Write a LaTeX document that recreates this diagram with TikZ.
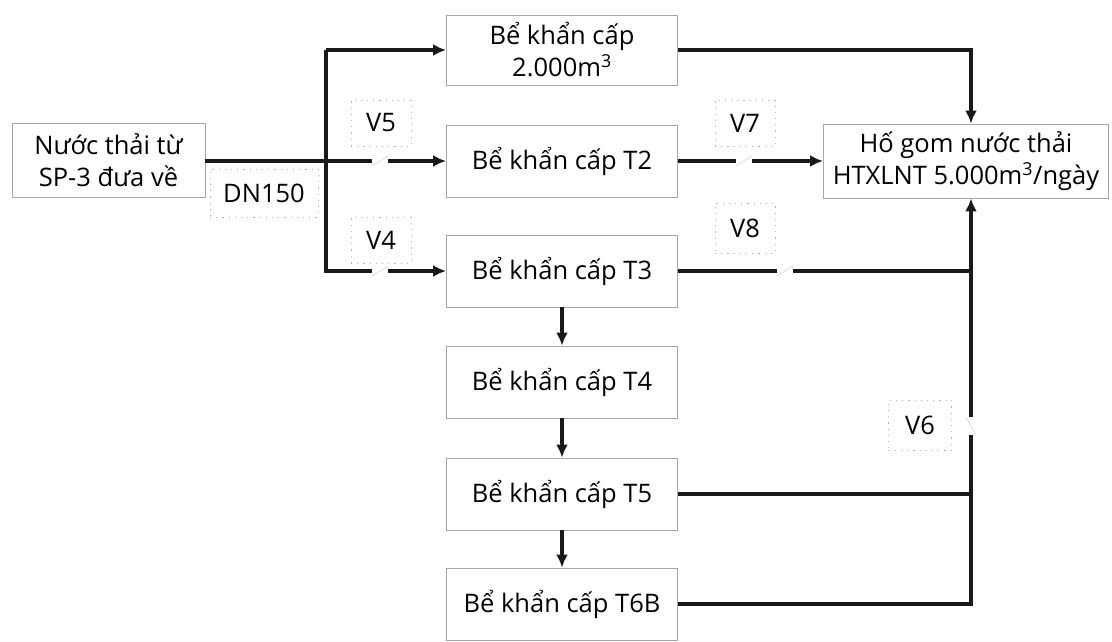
\documentclass[tikz,border=0pt]{standalone}
\usepackage{fontspec}
\setmainfont{Open Sans}
\usetikzlibrary{arrows.meta,calc}
\begin{document}
\begin{tikzpicture}[x=1pt,y=-1pt,
  tank/.style={draw=black!35,line width=0.9pt,fill=white,minimum width=231pt,minimum height=72pt,inner sep=0pt,align=center,font=\fontsize{25.5}{32}\selectfont},
  tag/.style={draw=black!30,line width=1pt,dash pattern=on 1.2pt off 5pt,inner sep=0pt,font=\fontsize{25.5}{32}\selectfont},
  pipe/.style={line width=3.5pt,black!90},
  flow/.style={pipe,-{Latex[length=13pt,width=12pt]}},
  valvemark/.style={line width=1pt,black!12}]
\useasboundingbox (0,0) rectangle (1112,641);
% boxes
\node[tank,minimum width=193pt,minimum height=74pt] (src) at (108.5,160) {Nước thải từ\\SP-3 đưa về};
\node[tank,minimum height=70pt] (top) at (562,50) {Bể khẩn cấp\\2.000m\textsuperscript{3}};
\node[tank] (t2) at (562,161) {Bể khẩn cấp T2};
\node[tank] (t3) at (562,271) {Bể khẩn cấp T3};
\node[tank] (t4) at (562,382) {Bể khẩn cấp T4};
\node[tank] (t5) at (562,494) {Bể khẩn cấp T5};
\node[tank] (t6) at (562,604) {Bể khẩn cấp T6B};
\node[tank,minimum width=285pt,minimum height=74pt] (hg) at (966,161) {Hố gom nước thải\\HTXLNT 5.000m\textsuperscript{3}/ngày};
% tags
\node[tag,minimum width=108pt,minimum height=48pt] (dn) at (264,193) {DN150};
\node[tag,minimum width=60pt,minimum height=46pt] (v5) at (381,123) {V5};
\node[tag,minimum width=60pt,minimum height=46pt] (v4) at (381,240) {V4};
\node[tag,minimum width=60pt,minimum height=46pt] (v7) at (745,123) {V7};
\node[tag,minimum width=60pt,minimum height=50pt] (v8) at (745,228) {V8};
\node[tag,minimum width=63pt,minimum height=50pt] (v6) at (920,425) {V6};
% coordinates
\coordinate (bt) at (326,50);
\coordinate (bb) at (326,271);
\coordinate (v5a) at (372,161);
\coordinate (v5b) at (388,161);
\coordinate (v4a) at (372,271);
\coordinate (v4b) at (388,271);
\coordinate (v7a) at (736,161);
\coordinate (v7b) at (752,161);
\coordinate (v8a) at (777,271);
\coordinate (v8b) at (793,271);
\coordinate (c1) at (971,50);
\coordinate (j3) at (971,271);
\coordinate (j5) at (971,494);
\coordinate (j6) at (971,604);
\coordinate (v6a) at (971,435);
\coordinate (v6b) at (971,417);
% pipes
\draw[pipe] (src.east |- v5a) -- (v5a);
\draw[flow] (v5b) -- (t2.west);
\draw[pipe] (bt) -- (bb) -- (v4a);
\draw[flow] (bt) -- (top.west);
\draw[flow] (v4b) -- (t3.west);
\draw[pipe] (t2.east) -- (v7a);
\draw[flow] (v7b) -- (hg.west |- v7b);
\draw[pipe] (t3.east) -- (v8a);
\draw[pipe] (v8b) -- (j3);
\draw[flow] (top.east) -- (c1) -- (c1 |- hg.north);
\draw[pipe] (t5.east) -- (j5);
\draw[pipe] (t6.east) -- (j6) -- (v6a);
\draw[flow] (v6b) -- (v6b |- hg.south);
\draw[flow] (t3.south) -- (t4.north);
\draw[flow] (t4.south) -- (t5.north);
\draw[flow] (t5.south) -- (t6.north);
% valve marks
\draw[valvemark] ($(v5a)+(0,5)$) -- ($(v5b)+(0,-5)$);
\draw[valvemark] ($(v4a)+(0,5)$) -- ($(v4b)+(0,-5)$);
\draw[valvemark] ($(v7a)+(0,5)$) -- ($(v7b)+(0,-5)$);
\draw[valvemark] ($(v8a)+(0,5)$) -- ($(v8b)+(0,-5)$);
\draw[valvemark] ($(v6a)+(5,0)$) -- ($(v6b)+(-5,0)$);
\end{tikzpicture}
\end{document}
